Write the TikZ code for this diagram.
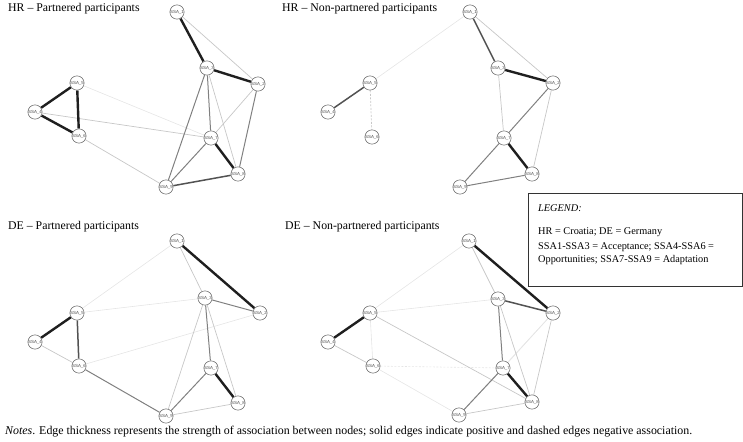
\documentclass[tikz,border=0pt]{standalone}
\usepackage{fontspec}
\setmainfont{Liberation Serif}
\newfontfamily\nodefont{Liberation Sans}
\usetikzlibrary{backgrounds}
\tikzset{
  ssa/.style={circle,draw=black!55,fill=white,line width=0.6pt,minimum size=13pt,inner sep=0pt,
    font=\nodefont\fontsize{4.4}{5}\selectfont,text=black!70},
  ea/.style={draw=black!10,line width=0.6pt},
  eb/.style={draw=black!22,line width=0.7pt},
  ec/.style={draw=black!50,line width=1pt},
  ed/.style={draw=black!68,line width=1.5pt},
  ee/.style={draw=black!88,line width=2.4pt},
  neg/.style={dashed,dash pattern=on 2pt off 1.5pt},
  ttl/.style={anchor=west,inner sep=0pt,font=\fontsize{11.8}{13}\selectfont},
  legtxt/.style={anchor=west,inner sep=0pt,font=\fontsize{10.3}{12}\selectfont},
}
\begin{document}
\begin{tikzpicture}[x=1pt,y=-1pt]
\useasboundingbox (0,0) rectangle (743,441);
% titles
\node[ttl] (t1) at (8,9) {HR -- Partnered participants};
\node[ttl] (t2) at (282,9) {HR -- Non-partnered participants};
\node[ttl] (t3) at (8,227) {DE -- Partnered participants};
\node[ttl] (t4) at (285,227) {DE -- Non-partnered participants};
% ---- HR partnered
\node[ssa] (a1) at (177,12) {SSA\textunderscore 1};
\node[ssa] (a3) at (207,68) {SSA\textunderscore 3};
\node[ssa] (a2) at (258,84) {SSA\textunderscore 2};
\node[ssa] (a5) at (77,83) {SSA\textunderscore 5};
\node[ssa] (a4) at (35,112) {SSA\textunderscore 4};
\node[ssa] (a6) at (79,136) {SSA\textunderscore 6};
\node[ssa] (a7) at (211,138) {SSA\textunderscore 7};
\node[ssa] (a8) at (238,174) {SSA\textunderscore 8};
\node[ssa] (a9) at (166,187) {SSA\textunderscore 9};
% ---- HR non-partnered
\node[ssa] (b1) at (470,12) {SSA\textunderscore 1};
\node[ssa] (b3) at (498,68) {SSA\textunderscore 3};
\node[ssa] (b2) at (553,83) {SSA\textunderscore 2};
\node[ssa] (b5) at (370,83) {SSA\textunderscore 5};
\node[ssa] (b4) at (328,112) {SSA\textunderscore 4};
\node[ssa] (b6) at (372,137) {SSA\textunderscore 6};
\node[ssa] (b7) at (504,138) {SSA\textunderscore 7};
\node[ssa] (b8) at (532,174) {SSA\textunderscore 8};
\node[ssa] (b9) at (460,187) {SSA\textunderscore 9};
% ---- DE partnered
\node[ssa] (c1) at (177,241) {SSA\textunderscore 1};
\node[ssa] (c3) at (205,298) {SSA\textunderscore 3};
\node[ssa] (c2) at (260,313) {SSA\textunderscore 2};
\node[ssa] (c5) at (77,313) {SSA\textunderscore 5};
\node[ssa] (c4) at (35,342) {SSA\textunderscore 4};
\node[ssa] (c6) at (79,366) {SSA\textunderscore 6};
\node[ssa] (c7) at (211,368) {SSA\textunderscore 7};
\node[ssa] (c8) at (238,403) {SSA\textunderscore 8};
\node[ssa] (c9) at (166,416) {SSA\textunderscore 9};
% ---- DE non-partnered
\node[ssa] (d1) at (469,241) {SSA\textunderscore 1};
\node[ssa] (d3) at (498,299) {SSA\textunderscore 3};
\node[ssa] (d2) at (553,313) {SSA\textunderscore 2};
\node[ssa] (d5) at (370,313) {SSA\textunderscore 5};
\node[ssa] (d4) at (328,342) {SSA\textunderscore 4};
\node[ssa] (d6) at (373,366) {SSA\textunderscore 6};
\node[ssa] (d7) at (503,368) {SSA\textunderscore 7};
\node[ssa] (d8) at (532,402) {SSA\textunderscore 8};
\node[ssa] (d9) at (459,415) {SSA\textunderscore 9};
\begin{scope}[on background layer]
% HR partnered edges
\draw[ea] (a5) -- (a7);
\draw[eb] (a4) -- (a7);
\draw[eb] (a6) -- (a9);
\draw[eb] (a1) -- (a2);
\draw[eb] (a3) -- (a8);
\draw[eb] (a2) -- (a7);
\draw[ec] (a3) -- (a9);
\draw[ec] (a3) -- (a7);
\draw[ec] (a2) -- (a8);
\draw[ec] (a7) -- (a9);
\draw[ed] (a9) -- (a8);
\draw[ee] (a1) -- (a3);
\draw[ee] (a3) -- (a2);
\draw[ee] (a5) -- (a4);
\draw[ee] (a5) -- (a6);
\draw[ee] (a4) -- (a6);
\draw[ee] (a7) -- (a8);
% HR non-partnered edges
\draw[ea] (b1) -- (b5);
\draw[eb] (b1) -- (b2);
\draw[eb] (b3) -- (b7);
\draw[eb] (b2) -- (b8);
\draw[ec] (b2) -- (b7);
\draw[ec] (b7) -- (b9);
\draw[ec] (b9) -- (b8);
\draw[ed] (b1) -- (b3);
\draw[ed] (b5) -- (b4);
\draw[eb,neg] (b5) -- (b6);
\draw[ee] (b3) -- (b2);
\draw[ee] (b7) -- (b8);
% DE partnered edges
\draw[ea] (c3) -- (c5);
\draw[ea] (c1) -- (c4);
\draw[ea] (c2) -- (c6);
\draw[eb] (c1) -- (c3);
\draw[eb] (c3) -- (c8);
\draw[eb] (c3) -- (c9);
\draw[eb] (c4) -- (c6);
\draw[eb] (c9) -- (c8);
\draw[ec] (c3) -- (c2);
\draw[ec] (c3) -- (c7);
\draw[ec] (c6) -- (c9);
\draw[ec] (c7) -- (c9);
\draw[ed] (c5) -- (c6);
\draw[ee] (c1) -- (c2);
\draw[ee] (c5) -- (c4);
\draw[ee] (c7) -- (c8);
% DE non-partnered edges
\draw[ea] (d3) -- (d5);
\draw[ea] (d1) -- (d4);
\draw[ea] (d2) -- (d9);
\draw[ea] (d5) -- (d6);
\draw[ea] (d6) -- (d9);
\draw[ea] (d2) -- (d7);
\draw[ea,neg] (d6) -- (d7);
\draw[eb] (d1) -- (d3);
\draw[eb] (d3) -- (d8);
\draw[eb] (d4) -- (d6);
\draw[eb] (d5) -- (d8);
\draw[eb] (d9) -- (d8);
\draw[eb] (d2) -- (d8);
\draw[ec] (d3) -- (d7);
\draw[ec] (d7) -- (d9);
\draw[ed] (d3) -- (d2);
\draw[ee] (d1) -- (d2);
\draw[ee] (d5) -- (d4);
\draw[ee] (d7) -- (d8);
\end{scope}
% legend
\node[draw=black!80,line width=0.8pt,fill=white,anchor=north west,minimum width=214pt,minimum height=93pt,inner sep=0pt] (leg) at (528,193) {};
\node[legtxt] (l1) at (538,208) {\textit{LEGEND:}};
\node[legtxt] (l2) at (538,232) {HR = Croatia; DE = Germany};
\node[legtxt] (l3) at (538,247) {SSA1-SSA3 = Acceptance; SSA4-SSA6 =};
\node[legtxt] (l4) at (538,260) {Opportunities; SSA7-SSA9 = Adaptation};
% notes
\node[anchor=west,inner sep=0pt,font=\fontsize{11.9}{13}\selectfont] (notes) at (5,432) {\textit{Notes}. Edge thickness represents the strength of association between nodes; solid edges indicate positive and dashed edges negative association.};
\end{tikzpicture}
\end{document}
